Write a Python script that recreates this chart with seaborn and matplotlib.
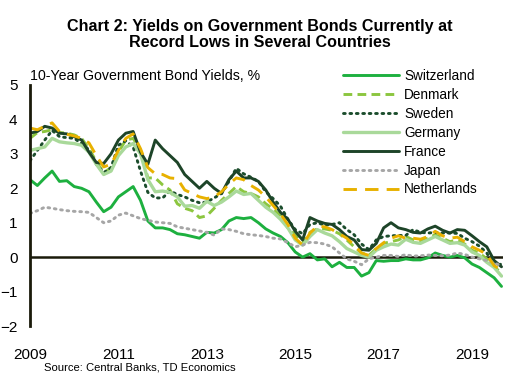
import numpy as np
import pandas as pd
import matplotlib
matplotlib.use("Agg")
import matplotlib.pyplot as plt
import seaborn as sns

# Bi-monthly observations, Jan 2009 .. Sep 2019
dates = pd.date_range("2009-01-01", periods=65, freq="2MS")

switzerland = [2.25, 2.08, 2.30, 2.50, 2.20, 2.22, 2.05, 2.00, 1.90, 1.60,
               1.32, 1.45, 1.75, 1.90, 2.05, 1.65, 1.05, 0.85, 0.85, 0.80,
               0.68, 0.65, 0.60, 0.55, 0.72, 0.70, 0.80, 1.05, 1.15, 1.12,
               1.15, 1.00, 0.82, 0.70, 0.60, 0.42, 0.15, 0.00, 0.10, -0.08,
               -0.05, -0.28, -0.15, -0.30, -0.30, -0.55, -0.45, -0.10, -0.12, -0.10,
               -0.10, -0.05, -0.08, -0.08, -0.02, 0.12, 0.05, 0.00, 0.05, -0.02,
               -0.20, -0.30, -0.45, -0.60, -0.85]
denmark = [3.45, 3.62, 3.65, 3.70, 3.62, 3.60, 3.55, 3.45, 3.15, 2.78,
           2.45, 2.60, 3.05, 3.40, 3.45, 3.10, 2.30, 2.30, 2.10, 1.95,
           1.55, 1.42, 1.35, 1.15, 1.20, 1.42, 1.65, 1.85, 2.05, 1.90,
           1.85, 1.75, 1.55, 1.40, 1.20, 0.85, 0.65, 0.40, 0.72, 0.82,
           0.82, 0.78, 0.68, 0.50, 0.30, 0.12, 0.05, 0.25, 0.40, 0.45,
           0.50, 0.60, 0.50, 0.48, 0.55, 0.65, 0.55, 0.45, 0.50, 0.38,
           0.20, 0.12, -0.05, -0.25, -0.50]
sweden = [2.80, 3.10, 3.40, 3.68, 3.50, 3.47, 3.45, 3.30, 3.12, 2.70,
          2.45, 2.60, 3.25, 3.38, 3.20, 2.50, 1.88, 1.72, 1.72, 1.92,
          1.82, 1.75, 1.65, 1.58, 1.60, 1.72, 1.85, 2.20, 2.58, 2.42,
          2.32, 2.20, 1.90, 1.70, 1.48, 1.10, 0.80, 0.68, 0.95, 1.00,
          0.93, 0.95, 1.00, 0.80, 0.65, 0.38, 0.22, 0.50, 0.60, 0.62,
          0.63, 0.63, 0.80, 0.72, 0.70, 0.72, 0.70, 0.70, 0.69, 0.55,
          0.45, 0.32, 0.12, -0.25, -0.20]
germany = [3.10, 3.15, 3.20, 3.45, 3.35, 3.32, 3.30, 3.25, 3.05, 2.70,
           2.40, 2.50, 2.95, 3.20, 3.30, 3.00, 2.25, 1.90, 1.92, 1.88,
           1.75, 1.48, 1.50, 1.42, 1.62, 1.50, 1.60, 1.75, 1.92, 1.82,
           1.85, 1.65, 1.45, 1.30, 1.10, 0.85, 0.50, 0.35, 0.60, 0.80,
           0.70, 0.62, 0.45, 0.25, 0.15, 0.05, 0.00, 0.20, 0.30, 0.38,
           0.35, 0.52, 0.43, 0.40, 0.50, 0.60, 0.50, 0.40, 0.42, 0.35,
           0.15, 0.05, -0.15, -0.30, -0.55]
france = [3.60, 3.65, 3.80, 3.75, 3.60, 3.58, 3.50, 3.40, 3.05, 2.75,
          2.72, 3.00, 3.40, 3.60, 3.65, 3.05, 2.70, 3.40, 3.15, 2.95,
          2.75, 2.40, 2.20, 2.00, 2.20, 2.00, 1.85, 2.25, 2.50, 2.30,
          2.30, 2.20, 1.95, 1.60, 1.30, 1.10, 0.75, 0.50, 1.15, 1.05,
          0.98, 0.95, 0.80, 0.60, 0.50, 0.22, 0.20, 0.40, 0.85, 1.00,
          0.85, 0.80, 0.72, 0.70, 0.82, 0.90, 0.78, 0.70, 0.80, 0.78,
          0.62, 0.45, 0.30, -0.10, -0.28]
japan = [1.27, 1.35, 1.45, 1.42, 1.38, 1.35, 1.33, 1.32, 1.30, 1.15,
         1.00, 1.05, 1.22, 1.28, 1.20, 1.12, 1.07, 1.02, 1.00, 0.98,
         0.88, 0.84, 0.80, 0.76, 0.72, 0.64, 0.82, 0.80, 0.75, 0.68,
         0.65, 0.63, 0.60, 0.55, 0.53, 0.42, 0.30, 0.35, 0.43, 0.42,
         0.38, 0.30, 0.12, -0.05, -0.12, -0.22, -0.05, 0.00, 0.05, 0.05,
         0.02, 0.07, 0.03, 0.04, 0.06, 0.05, 0.04, 0.06, 0.12, 0.08,
         0.00, -0.05, -0.10, -0.17, -0.25]
netherlands = [3.75, 3.70, 3.80, 3.90, 3.65, 3.57, 3.52, 3.45, 3.32, 2.95,
               2.62, 2.70, 3.10, 3.45, 3.58, 3.15, 2.60, 2.42, 2.40, 2.30,
               2.28, 1.95, 1.85, 1.75, 1.70, 1.75, 1.90, 2.12, 2.30, 2.25,
               2.08, 1.95, 1.75, 1.50, 1.25, 0.95, 0.55, 0.35, 0.70, 0.90,
               0.88, 0.80, 0.68, 0.55, 0.35, 0.12, 0.05, 0.25, 0.42, 0.55,
               0.62, 0.55, 0.55, 0.52, 0.60, 0.75, 0.62, 0.55, 0.58, 0.45,
               0.30, 0.20, 0.08, -0.25, -0.38]

countries = ["Switzerland", "Denmark", "Sweden", "Germany", "France", "Japan", "Netherlands"]
values = [switzerland, denmark, sweden, germany, france, japan, netherlands]
year_ticks = [2009, 2011, 2013, 2015, 2017, 2019]

styles = {
    "Switzerland": dict(color="#1DB03F", ls="-", lw=2.1),
    "Denmark": dict(color="#8CC63F", ls=(0, (3.0, 1.8)), lw=2.1),
    "Sweden": dict(color="#1B4D2C", ls=(0, (0.6, 1.6)), lw=2.1),
    "Germany": dict(color="#A9D99A", ls="-", lw=2.4),
    "France": dict(color="#1D4428", ls="-", lw=2.1),
    "Japan": dict(color="#A6A6A6", ls=(0, (0.6, 1.6)), lw=2.1),
    "Netherlands": dict(color="#E8B100", ls=(0, (4.6, 2.8)), lw=2.1),
}

frames = []
for name, vals in zip(countries, values):
    frames.append(pd.DataFrame({"date": dates, "yield": vals, "country": name}))
df = pd.concat(frames, ignore_index=True)
df["t"] = df["date"].dt.year + (df["date"].dt.month - 1) / 12.0

sns.set_theme(style="white")
plt.rcParams["font.family"] = ["Liberation Sans", "DejaVu Sans"]
plt.rcParams["text.color"] = "black"

fig = plt.figure(figsize=(5.19, 3.85), dpi=100)
ax = fig.add_axes([30 / 519, 1 - 326 / 385, (503 - 30) / 519, (326 - 85) / 385])

for name in countries:
    st = styles[name]
    sub = df[df["country"] == name]
    sns.lineplot(data=sub, x="t", y="yield", ax=ax, color=st["color"],
                 linestyle=st["ls"], linewidth=st["lw"], label=name,
                 dash_capstyle="round" if name in ("Sweden", "Japan") else "butt")

ax.axhline(0, color="#1A1A0A", lw=1.8, zorder=1)
ax.set_xlim(2009.0, 2019.7)
ax.set_ylim(-2, 5)
ax.set_yticks(range(-2, 6))
ax.set_xticks(year_ticks)
ax.set_xticklabels([str(y) for y in year_ticks])
ax.tick_params(axis="both", length=0, labelsize=11, colors="black", labelcolor="black")
ax.tick_params(axis="y", pad=9)
ax.tick_params(axis="x", pad=16)
ax.set_xlabel("")
ax.set_ylabel("")
for s in ["top", "right", "bottom"]:
    ax.spines[s].set_visible(False)
ax.spines["left"].set_color("#1A1A0A")
ax.spines["left"].set_linewidth(2)
ax.grid(False)

leg = ax.legend(loc="upper left", bbox_to_anchor=(343 / 519, 1 - 69 / 385),
                bbox_transform=fig.transFigure, frameon=False, fontsize=9.8,
                handlelength=4.1, handletextpad=0.4, labelspacing=0.36,
                borderaxespad=0, borderpad=0)
for t in leg.get_texts():
    t.set_color("black")

fig.text(0.5, 1 - 19 / 385, "Chart 2: Yields on Government Bonds Currently at\nRecord Lows in Several Countries",
         ha="center", va="top", fontsize=11.6, fontweight="bold", linespacing=1.08, color="black")
fig.text(30 / 519, 1 - 80 / 385, "10-Year Government Bond Yields, %", ha="left", va="baseline",
         fontsize=10.2, color="black")
fig.text(44 / 519, 1 - 370 / 385, "Source: Central Banks, TD Economics", ha="left", va="baseline",
         fontsize=8.1, color="black")

fig.savefig("out.png", dpi=100)
